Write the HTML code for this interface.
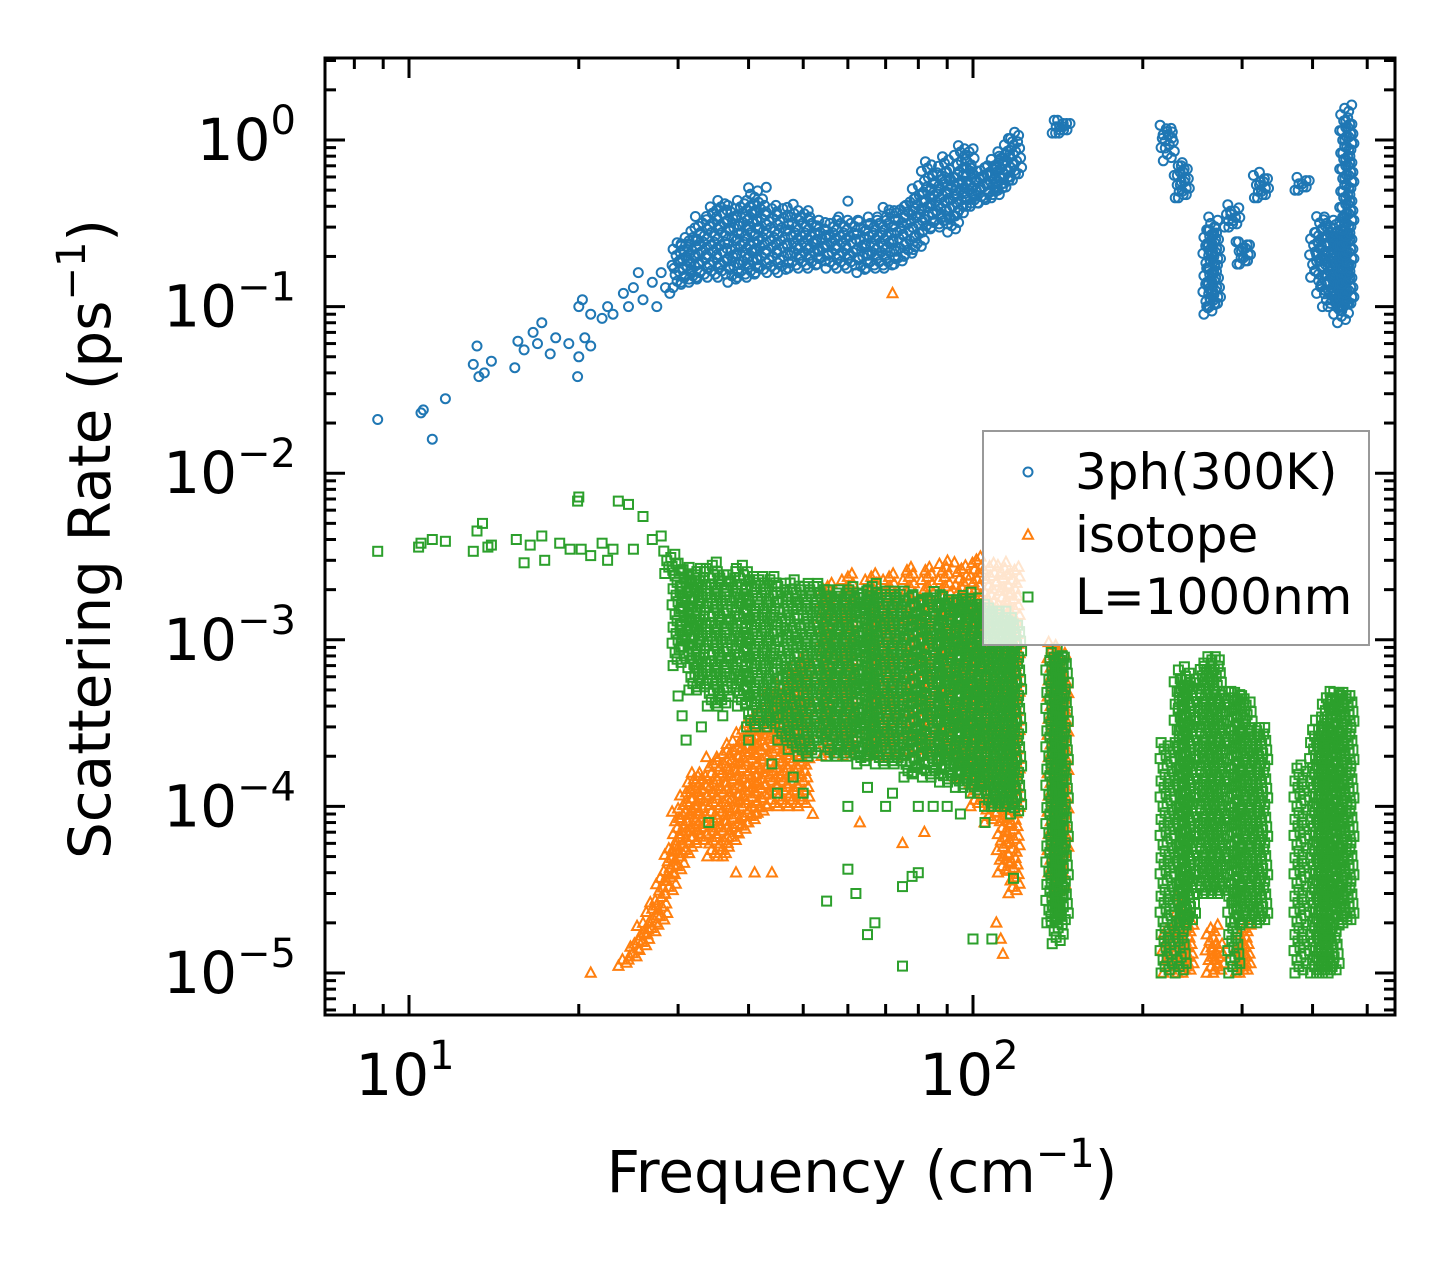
<!DOCTYPE html>
<html><head><meta charset="utf-8"><style>
html,body{margin:0;padding:0;background:#fff;}
svg{display:block;}
text{font-family:"DejaVu Sans","Liberation Sans",sans-serif;fill:#000;}
</style></head><body>
<svg id="chart" width="1455" height="1265" viewBox="0 0 1455 1265" xmlns="http://www.w3.org/2000/svg">
<rect x="0" y="0" width="1455" height="1265" fill="#fff"/>
<g id="marks"></g>
<g id="axes"></g>
<g id="legend"></g>
</svg>
<script>
// ---- data ----
const xTickVals=[10,100];
const xTickExps=["1","2"];
const yTickVals=[1,0.1,0.01,0.001,0.0001,0.00001];
const yTickExps=["0","\u22121","\u22122","\u22123","\u22124","\u22125"];
const legendLabels=["3ph(300K)","isotope","L=1000nm"];

// 3ph individual points
const ph3F=[8.8,10.5,10.6,11,11.6,13,13.2,13.3,13.6,14,15.4,15.6,16,16.6,16.9,17.2,17.8,18.2,19.2,19.9,20,20,20.3,20.5,21,21,22,22.5,23,24,24.5,25,25.5,26,27,27.5,28,28.5,29,29.5,43,60,71];
const ph3R=[0.021,0.023,0.024,0.016,0.028,0.045,0.058,0.038,0.04,0.047,0.043,0.062,0.055,0.07,0.06,0.08,0.052,0.065,0.06,0.038,0.05,0.1,0.11,0.065,0.058,0.09,0.085,0.1,0.09,0.12,0.1,0.13,0.16,0.11,0.14,0.1,0.16,0.13,0.12,0.17,0.52,0.43,0.38];
// 3ph column ranges (freq, low, high)
const ph3ColF=[30,31,32,33,34.5,36,37.5,39,40.5,42,44,46,48,50,52,54,56,58.5,61,63.5,66,68.5,71,74,77,80,83,86,89,92,95,98,101,104,107,110,113,116,119,141,143,145,220,222,233,236,262,265,268,285,290,300,303,322,326,380,385,405,415,425,435,445,452,458,462];
const ph3ColLo=[0.13,0.14,0.14,0.15,0.15,0.15,0.14,0.15,0.15,0.16,0.16,0.16,0.17,0.17,0.17,0.18,0.17,0.17,0.17,0.16,0.17,0.17,0.17,0.18,0.2,0.22,0.28,0.3,0.3,0.28,0.35,0.4,0.4,0.42,0.45,0.45,0.5,0.55,0.6,1.1,1.1,1.1,0.9,0.75,0.45,0.45,0.09,0.1,0.1,0.3,0.3,0.18,0.18,0.45,0.45,0.5,0.5,0.15,0.12,0.1,0.1,0.09,0.08,0.1,0.1];
const ph3ColHi=[0.25,0.27,0.3,0.35,0.4,0.45,0.42,0.45,0.52,0.45,0.42,0.4,0.42,0.38,0.36,0.33,0.33,0.35,0.33,0.33,0.35,0.35,0.4,0.4,0.45,0.55,0.75,0.65,0.8,0.65,0.95,0.9,0.7,0.7,0.7,0.8,0.85,1.05,1.15,1.35,1.35,1.3,1.25,1.2,0.75,0.7,0.3,0.35,0.3,0.38,0.42,0.25,0.25,0.65,0.6,0.6,0.58,0.3,0.35,0.35,0.3,0.35,0.3,1.65,1.3];

// isotope points
const isoF=[21,72,36,38,41,44,52,63,75,82,110,112,113];
const isoR=[0.00001,0.12,0.00005,0.00004,0.00004,0.00004,0.00009,0.00008,0.00006,0.00007,0.00002,0.000016,0.000013];
const isoColF=[24,25,26,27,28,29,30,31,32,33,34.5,36,37.5,39,40.5,42,44,46,48,50,55,60,66,71,77,83,89,95,101,107,113,118,139,142,144,222,235,240,265,272,298,303];
const isoColLo=[0.000011,0.000012,0.000014,0.000017,0.00002,0.00003,0.00004,0.00005,0.00006,0.00006,0.00005,0.00005,0.00006,0.00007,0.00008,0.00009,0.0001,0.0001,0.0001,0.0001,0.0002,0.0002,0.0002,0.0002,0.0002,0.0002,0.0002,0.00015,0.0001,0.00008,0.00004,0.00003,0.00004,0.00003,0.00005,0.00001,0.00001,0.00001,0.00001,0.00001,0.00001,0.00001];
const isoColHi=[0.000013,0.000016,0.00002,0.000027,0.00004,0.00006,0.0001,0.00013,0.00016,0.00016,0.0002,0.00022,0.00025,0.0003,0.00035,0.0004,0.0005,0.0006,0.0007,0.0008,0.0022,0.0025,0.0025,0.0025,0.0028,0.0028,0.003,0.003,0.0032,0.003,0.003,0.0028,0.001,0.0009,0.0006,0.00002,0.00003,0.00002,0.00002,0.000015,0.000015,0.00002];

// L=1000nm points
const bdF=[8.8,10.4,10.5,11,11.6,13,13.2,13.5,13.8,14,15.5,16,16.4,17.2,17.4,18.5,19.3,19.9,20,20.2,21,22,22.5,23,23.5,24.5,25,26,27,28,30,30.5,31,34,55,60,62,65,67,75,75,78,80,100,108,118,45,50,60,70,85,95,33,36,40,44,48,65,72,80,90,105];
const bdR=[0.0034,0.0036,0.0038,0.004,0.0039,0.0034,0.0045,0.005,0.0036,0.0037,0.004,0.0029,0.0037,0.0042,0.003,0.0038,0.0035,0.0068,0.0072,0.0035,0.0032,0.0038,0.003,0.0035,0.0068,0.0065,0.0035,0.0055,0.004,0.0042,0.00046,0.00035,0.00025,0.00008,0.000027,0.000042,0.00003,0.000017,0.00002,0.000011,0.000033,0.000038,0.00004,0.000016,0.000016,0.000037,0.00012,0.00012,0.0001,0.0001,0.0001,0.00009,0.0003,0.00035,0.00025,0.00018,0.00015,0.00013,0.00012,0.0001,0.0001,0.00008];
const bdColF=[29,30,31,32,33,34.5,36,37.5,39,40.5,42,44,46,48,50,52,54,56,58.5,61,63.5,66,68.5,71,74,77,80,83,86,89,92,95,98,101,104,107,110,113,116,119,138,141,144,220,233,237,242,255,262,270,277,290,297,305,318,325,380,405,415,425,435,445,455,462];
const bdColLo=[0.0025,0.0007,0.0009,0.0005,0.0005,0.0004,0.0004,0.0005,0.0004,0.0003,0.0003,0.0003,0.00025,0.00022,0.0002,0.0002,0.00025,0.0002,0.0002,0.0002,0.00018,0.0002,0.00018,0.00018,0.00018,0.00015,0.00016,0.00015,0.00015,0.00014,0.00014,0.00013,0.00013,0.00012,0.00012,0.0001,0.0001,0.0001,0.0001,0.00009,0.00002,0.000015,0.00002,0.00001,0.00001,0.00002,0.00002,0.00003,0.00003,0.00003,0.00003,0.00001,0.00002,0.00002,0.00002,0.00002,0.00001,0.00001,0.00001,0.00001,0.00001,0.00002,0.00002,0.00002];
const bdColHi=[0.0035,0.003,0.0028,0.0026,0.0028,0.003,0.0025,0.0026,0.0028,0.0025,0.0025,0.0024,0.0022,0.0023,0.0022,0.0022,0.0021,0.002,0.002,0.0021,0.002,0.0022,0.002,0.002,0.002,0.0019,0.0019,0.0018,0.002,0.0019,0.0018,0.0018,0.002,0.0018,0.0017,0.0016,0.0015,0.0015,0.0014,0.0013,0.0008,0.0009,0.0008,0.00025,0.0006,0.0007,0.0006,0.0007,0.0008,0.0008,0.0005,0.0005,0.0005,0.00045,0.0003,0.0003,0.00018,0.0003,0.00035,0.00045,0.0005,0.0005,0.0005,0.0005];

// ---- axes geometry ----
const L=325,R=1395,T=58,B=1015;
const X10=409,X100=973,Y1=140,DEC=166.6;
function xs(f){return X10+(Math.log10(f)-1)*(X100-X10);}
function ys(v){return Y1-Math.log10(v)*DEC;}
const NS="http://www.w3.org/2000/svg";
function mk(tag,attrs,parent){const e=document.createElementNS(NS,tag);for(const k in attrs)e.setAttribute(k,attrs[k]);parent.appendChild(e);return e;}
const marks=document.getElementById('marks');
const axes=document.getElementById('axes');
const legend=document.getElementById('legend');
const COL={b:'#1f77b4',o:'#ff7f0e',g:'#2ca02c'};

function marker(kind,x,y,parent){
  let e;
  if(kind==='b'){e=mk('circle',{cx:x.toFixed(1),cy:y.toFixed(1),r:4.5,fill:'none',stroke:COL.b,'stroke-width':2},parent);}
  else if(kind==='o'){e=mk('polygon',{points:`${x},${y-5.5} ${x-5},${y+3.8} ${x+5},${y+3.8}`,fill:'none',stroke:COL.o,'stroke-width':2},parent);}
  else {e=mk('rect',{x:(x-4.5).toFixed(1),y:(y-4.5).toFixed(1),width:9,height:9,fill:'none',stroke:COL.g,'stroke-width':2},parent);}
  return e;
}
function drawSeries(kind,F,Rv,CF,CL,CH,name){
  const g=mk('g',{},marks);
  
  
  const offs=[-5,3,-1,6,-3,1,5,-6,0,4,-2,2];
  for(let i=0;i<CF.length;i++){
    const x=xs(CF[i]);const y0=ys(CL[i]),y1=ys(CH[i]);
    let k=0;
    for(let y=y0;y>=y1-0.1;y-=3.2){
      const m=marker(kind,x+offs[k%12],y,g);
      
      
      k++;
    }
  }
  for(let i=0;i<F.length;i++){
    const m=marker(kind,xs(F[i]),ys(Rv[i]),g);
    
    
  }
}
drawSeries('b',ph3F,ph3R,ph3ColF,ph3ColLo,ph3ColHi,'series-3ph');
drawSeries('o',isoF,isoR,isoColF,isoColLo,isoColHi,'series-isotope');
drawSeries('g',bdF,bdR,bdColF,bdColLo,bdColHi,'series-boundary');

mk('rect',{x:0,y:0,width:1455,height:T,fill:'#fff'},marks);
mk('rect',{x:0,y:B,width:1455,height:1265-B,fill:'#fff'},marks);

const frame=mk('rect',{x:L,y:T,width:R-L,height:B-T,fill:'none',stroke:'#000','stroke-width':3},axes);



for(let d=-6;d<=1;d++){
  for(let m=1;m<=9;m++){
    const v=m*Math.pow(10,d);const y=ys(v);
    if(y<T||y>B)continue;
    const len=m===1?20:11;
    mk('line',{x1:L,y1:y,x2:L+len,y2:y,stroke:'#000','stroke-width':3},axes);
    mk('line',{x1:R,y1:y,x2:R-len,y2:y,stroke:'#000','stroke-width':3},axes);
  }
}
for(let d=0;d<=3;d++){
  for(let m=1;m<=9;m++){
    const v=m*Math.pow(10,d);const x=xs(v);
    if(x<L||x>R)continue;
    const len=m===1?20:11;
    mk('line',{x1:x,y1:B,x2:x,y2:B-len,stroke:'#000','stroke-width':3},axes);
    mk('line',{x1:x,y1:T,x2:x,y2:T+len,stroke:'#000','stroke-width':3},axes);
  }
}
yTickVals.forEach((v,i)=>{
  const t=mk('text',{x:296,y:ys(v)+20,'text-anchor':'end','font-size':58},axes);
  
  
  const a=document.createElementNS(NS,'tspan');a.textContent='10';t.appendChild(a);
  const b=document.createElementNS(NS,'tspan');b.setAttribute('dy','-26');b.setAttribute('font-size','40');b.textContent=yTickExps[i];t.appendChild(b);
});
xTickVals.forEach((v,i)=>{
  const t=mk('text',{x:xs(v)-4,y:1095,'text-anchor':'middle','font-size':58},axes);
  
  
  const a=document.createElementNS(NS,'tspan');a.textContent='10';t.appendChild(a);
  const b=document.createElementNS(NS,'tspan');b.setAttribute('dy','-26');b.setAttribute('font-size','40');b.textContent=xTickExps[i];t.appendChild(b);
});
(function(){
  const t=mk('text',{x:862,y:1192,'text-anchor':'middle','font-size':58},axes);
  
  
  t.innerHTML='Frequency (cm<tspan dy="-25" font-size="40">\u22121</tspan><tspan dy="25">)</tspan>';
  const y=mk('text',{x:0,y:0,'text-anchor':'middle','font-size':58,transform:'translate(110,539) rotate(-90)'},axes);
  
  
  y.innerHTML='Scattering Rate (ps<tspan dy="-25" font-size="40">\u22121</tspan><tspan dy="25">)</tspan>';
})();

const lbox=mk('rect',{x:983,y:431,width:386,height:214,fill:'#fff','fill-opacity':0.8,stroke:'#999','stroke-width':2},legend);


const kinds=['b','o','g'];const rowsY=[472,535,597];
legendLabels.forEach((lab,i)=>{
  const g=mk('g',{},legend);
  
  
  marker(kinds[i],1028,rowsY[i],g);
  const t=mk('text',{x:1075,y:rowsY[i]+17,'font-size':50},g);
  t.textContent=lab;
});
</script>
</body></html>
